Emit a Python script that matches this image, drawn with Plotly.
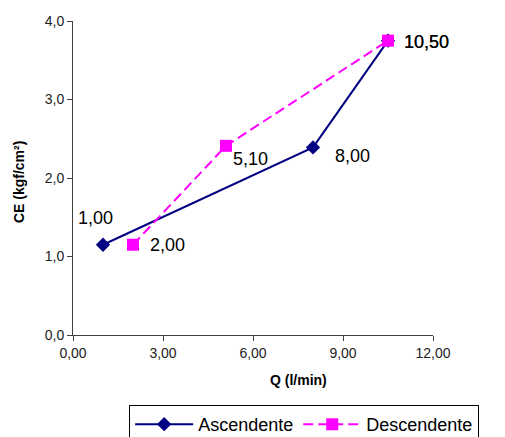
import plotly.graph_objects as go

asc_q = [1.00, 8.00, 10.50]
asc_ce = [1.15, 2.39, 3.75]
desc_q = [2.00, 5.10, 10.50]
desc_ce = [1.15, 2.41, 3.75]

x_ticks = [0, 3, 6, 9, 12]
x_tick_labels = ["0,00", "3,00", "6,00", "9,00", "12,00"]
y_ticks = [0, 1, 2, 3, 4]
y_tick_labels = ["0,0", "1,0", "2,0", "3,0", "4,0"]

x_title = "Q (l/min)"
y_title = "CE (kgf/cm²)"

def fmt(v):
    return f"{v:.2f}".replace(".", ",")

FONT = "Liberation Sans, Arial, sans-serif"

fig = go.Figure()
fig.add_trace(go.Scatter(
    x=asc_q, y=asc_ce, name="Ascendente", mode="lines+markers",
    line=dict(color="#000080", width=2),
    marker=dict(symbol="diamond", size=11, color="#000080"),
))
fig.add_trace(go.Scatter(
    x=desc_q, y=desc_ce, name="Descendente", mode="lines+markers",
    line=dict(color="#FF00FF", width=2, dash="10px,5px"),
    marker=dict(symbol="square", size=12, color="#FF00FF"),
))

# label offsets (style only)
asc_shift = [(-8, 27, "center"), (20, -9, "left"), (14, -1, "left")]
desc_shift = [(15, 0, "left"), (5, -13, "left"), (14, -1, "left")]
for xs, ys, shifts in [(asc_q, asc_ce, asc_shift), (desc_q, desc_ce, desc_shift)]:
    for xv, yv, (dx, dy, anc) in zip(xs, ys, shifts):
        fig.add_annotation(x=xv, y=yv, text=fmt(xv), showarrow=False,
                           xanchor=anc, yanchor="middle", xshift=dx, yshift=dy,
                           font=dict(family=FONT, size=18, color="black"))

# axis titles (placed as in the reference, x title off-centre)
fig.add_annotation(xref="paper", yref="paper", x=0.625, y=-0.143, text=f"<b>{x_title}</b>",
                   showarrow=False, xanchor="center", yanchor="middle",
                   font=dict(family=FONT, size=14, color="black"))
fig.add_annotation(xref="paper", yref="paper", x=-0.15, y=0.487, text=f"<b>{y_title}</b>",
                   showarrow=False, xanchor="center", yanchor="middle", textangle=-90,
                   font=dict(family=FONT, size=14, color="black"))

axis_common = dict(showgrid=False, zeroline=False, showline=True,
                   linecolor="#404040", linewidth=1, ticks="outside",
                   ticklen=5, tickcolor="#404040",
                   tickfont=dict(family=FONT, size=14, color="#222"))

fig.update_layout(
    width=497, height=429,
    margin=dict(l=65, r=72, t=13, b=102, autoexpand=False),
    paper_bgcolor="white", plot_bgcolor="white",
    showlegend=True,
    legend=dict(orientation="h", x=0.156, y=-0.223, xanchor="left", yanchor="top",
                bordercolor="black", borderwidth=1, font=dict(family=FONT, size=18, color="black"),
                itemwidth=58, tracegroupgap=0),
    xaxis=dict(range=[0, 12], tickvals=x_ticks, ticktext=x_tick_labels, **axis_common),
    yaxis=dict(range=[0, 4], tickvals=y_ticks, ticktext=y_tick_labels, **axis_common),
)

fig.write_html("out.html")
